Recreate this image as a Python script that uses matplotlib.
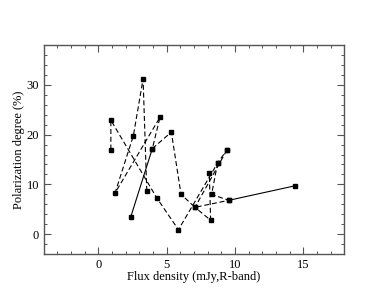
import matplotlib
matplotlib.use("Agg")
import matplotlib.pyplot as plt
from matplotlib.ticker import MultipleLocator

plt.rcParams['font.family'] = ['Liberation Serif', 'DejaVu Serif']

# Observations (flux density mJy, polarization degree %)
pts = {
    'A': (0.91, 22.9), 'B': (0.91, 17.0), 'C': (1.22, 8.3), 'D': (2.56, 19.8),
    'E': (3.27, 31.2), 'F': (3.54, 8.7), 'G': (3.95, 17.2), 'H': (4.51, 23.5),
    'I': (4.27, 7.3), 'J': (2.37, 3.5), 'K': (5.34, 20.5), 'L': (6.05, 8.0),
    'M': (5.86, 0.9), 'N': (7.07, 5.4), 'O': (9.41, 16.9), 'P': (8.73, 14.3),
    'Q': (8.12, 12.3), 'R': (8.29, 8.0), 'S': (8.22, 2.8), 'T': (9.54, 6.8),
    'U': (14.37, 9.7),
}

dashed_segments = [
    ['F', 'E', 'D', 'C', 'H', 'G', 'K', 'L', 'N', 'T', 'R', 'P'],
    ['B', 'A', 'I', 'M', 'P', 'O'],
    ['O', 'N', 'S', 'Q'],
]
solid_segments = [
    ['U', 'T'],
    ['J', 'G'],
]

x_ticks = [0, 5, 10, 15]
y_ticks = [0, 10, 20, 30]

fig = plt.figure(figsize=(3.88, 3.0), dpi=100)
ax = fig.add_axes([0.113, 0.153, 0.774, 0.697])

for seg in dashed_segments:
    xs = [pts[k][0] for k in seg]
    ys = [pts[k][1] for k in seg]
    ax.plot(xs, ys, color='black', lw=0.8, ls=(0, (4.5, 2.5)), marker='s', ms=3.2)
for seg in solid_segments:
    xs = [pts[k][0] for k in seg]
    ys = [pts[k][1] for k in seg]
    ax.plot(xs, ys, color='black', lw=0.8, ls='-', marker='s', ms=3.2)

ax.set_xlim(-4, 18)
ax.set_ylim(-4, 38)
ax.set_xticks(x_ticks)
ax.set_yticks(y_ticks)
ax.xaxis.set_minor_locator(MultipleLocator(1))
ax.yaxis.set_minor_locator(MultipleLocator(2))
ax.tick_params(which='both', direction='in', top=True, right=True,
               color='#555555', labelsize=9)
ax.tick_params(which='major', length=5, width=0.8)
ax.tick_params(which='minor', length=2.5, width=0.7)
for sp in ax.spines.values():
    sp.set_color('#555555')
    sp.set_linewidth(1.0)

ax.set_xlabel('Flux density (mJy,R-band)', fontsize=9, labelpad=0)
ax.set_ylabel('Polarization degree (%)', fontsize=9, labelpad=1)

fig.savefig('out.png', dpi=100)
